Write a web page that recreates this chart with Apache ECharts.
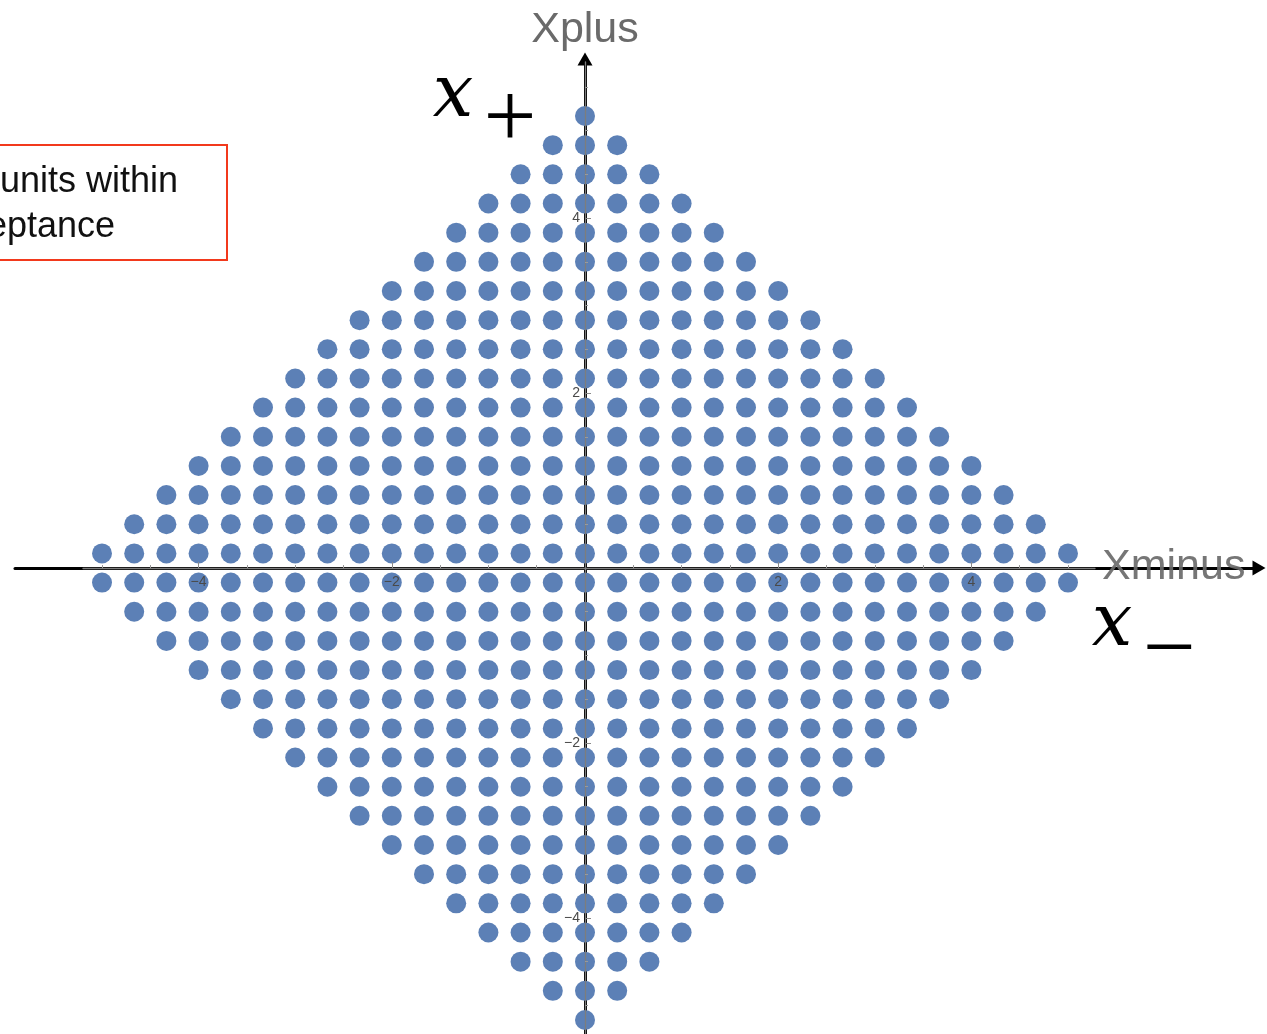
<!DOCTYPE html>
<html>
<head>
<meta charset="utf-8">
<script src="https://cdn.jsdelivr.net/npm/echarts@6/dist/echarts.min.js"></script>
<style>
  html, body { margin: 0; padding: 0; background: #ffffff; }
  #chart { width: 1267px; height: 1034px; }
</style>
</head>
<body>
<div id="chart"></div>
<script>
// Lattice rows from top to bottom: vertical level of each row, in lattice steps
const rowLevels = [
  15.5, 14.5, 13.5, 12.5, 11.5, 10.5, 9.5, 8.5, 7.5, 6.5, 5.5, 4.5, 3.5, 2.5, 1.5, 0.5,
  -0.5, -1.5, -2.5, -3.5, -4.5, -5.5, -6.5, -7.5, -8.5, -9.5, -10.5, -11.5, -12.5, -13.5, -14.5, -15.5
];
// Sites on each side of the Xplus axis in the matching row
const rowHalfWidths = [
  0, 1, 2, 3, 4, 5, 6, 7, 8, 9, 10, 11, 12, 13, 14, 15,
  15, 14, 13, 12, 11, 10, 9, 8, 7, 6, 5, 4, 3, 2, 1, 0
];
// Lattice spacing in axis units
const latticeStep = 1 / 3;

// Axis ticks
const majorTicks = [-4, -2, 2, 4];
const minorTicksX = [-5, -4.5, -3.5, -3, -2.5, -1.5, -1, -0.5, 0.5, 1, 1.5, 2.5, 3, 3.5, 4.5, 5];
const minorTicksY = [-5, -4.5, -3.5, -3, -2.5, -1.5, -1, -0.5, 0.5, 1, 1.5, 2.5, 3, 3.5, 4.5, 5, 5.5];

// Lattice sites
const sites = [];
rowLevels.forEach((level, r) => {
  const h = rowHalfWidths[r];
  for (let i = -h; i <= h; i++) {
    sites.push([i * latticeStep, level * latticeStep]);
  }
});

// Page geometry: where the origin sits and how many pixels one unit spans
const W = 1267, H = 1034;
const ORIGIN_X = 585, ORIGIN_Y = 568;
const UNIT_X = 96.6, UNIT_Y = 87.48;

function frame(left, right, top, bottom) {
  return {
    grid: { left: left, right: right, top: top, bottom: bottom, outerBoundsMode: 'none', containLabel: false },
    xMin: (left - ORIGIN_X) / UNIT_X,
    xMax: (W - right - ORIGIN_X) / UNIT_X,
    yMin: -(H - bottom - ORIGIN_Y) / UNIT_Y,
    yMax: (ORIGIN_Y - top) / UNIT_Y,
    // shifts that bring a bottom / left axis onto the origin
    xShift: -((H - bottom) - ORIGIN_Y),
    yShift: -(ORIGIN_X - left)
  };
}

// Outer frame: the long black arrows; inner frame: the thin gray axes with ticks
const outer = frame(15, 8, 59, 0);
const inner = frame(83, W - 1095, 62, 0);

const minusSign = v => String(v).replace('-', '\u2212');
const grayLine = '#7d7d7d';
const labelGray = '#4a4a4a';

function innerX(ticks, major) {
  return {
    gridIndex: 1, type: 'value', min: inner.xMin, max: inner.xMax, z: 5,
    position: 'bottom', offset: inner.xShift,
    axisLine: { show: major, onZero: false, lineStyle: { color: grayLine, width: 1.3 } },
    axisTick: { show: true, inside: true, length: major ? 6 : 3, customValues: ticks,
                lineStyle: { color: major ? '#8a8a8a' : '#9a9a9a', width: 1 } },
    axisLabel: { show: major, customValues: ticks, formatter: minusSign, margin: 7,
                 color: labelGray, fontSize: 14, fontFamily: 'Liberation Sans' },
    splitLine: { show: false }
  };
}
function innerY(ticks, major) {
  return {
    gridIndex: 1, type: 'value', min: inner.yMin, max: inner.yMax, z: 5,
    position: 'left', offset: inner.yShift,
    axisLine: { show: major, onZero: false, lineStyle: { color: grayLine, width: 1.3 } },
    axisTick: { show: true, inside: true, length: major ? 6 : 3, customValues: ticks,
                lineStyle: { color: major ? '#8a8a8a' : '#9a9a9a', width: 1 } },
    axisLabel: { show: major, customValues: ticks, formatter: minusSign, margin: 5,
                 color: labelGray, fontSize: 14, fontFamily: 'Liberation Sans' },
    splitLine: { show: false }
  };
}

const chart = echarts.init(document.getElementById('chart'), null, { renderer: 'canvas' });

chart.setOption({
  animation: false,
  backgroundColor: '#ffffff',
  grid: [outer.grid, inner.grid],
  xAxis: [
    {
      gridIndex: 0, type: 'value', min: outer.xMin, max: outer.xMax, z: 0,
      position: 'bottom', offset: outer.xShift,
      axisLine: { onZero: false, symbol: ['none', 'triangle'], symbolSize: [15, 13],
                  lineStyle: { color: '#000000', width: 3 } },
      axisTick: { show: false }, axisLabel: { show: false }, splitLine: { show: false }
    },
    innerX(majorTicks, true),
    innerX(minorTicksX, false)
  ],
  yAxis: [
    {
      gridIndex: 0, type: 'value', min: outer.yMin, max: outer.yMax, z: 0,
      position: 'left', offset: outer.yShift,
      axisLine: { onZero: false, symbol: ['none', 'triangle'], symbolSize: [15, 13],
                  lineStyle: { color: '#000000', width: 3 } },
      axisTick: { show: false }, axisLabel: { show: false }, splitLine: { show: false }
    },
    innerY(majorTicks, true),
    innerY(minorTicksY, false)
  ],
  series: [
    {
      type: 'scatter',
      xAxisIndex: 0,
      yAxisIndex: 0,
      data: sites,
      symbol: 'circle',
      symbolSize: 20,
      itemStyle: { color: '#5c80b6', opacity: 1 },
      silent: true,
      z: 2
    }
  ],
  graphic: [
    // Axis titles
    { type: 'text', z: 10, style: { text: 'Xplus', x: 585, y: 30, align: 'center', verticalAlign: 'middle',
      font: '43px "Liberation Sans", Arial, sans-serif', fill: '#6a6a6a' } },
    { type: 'text', z: 10, style: { text: 'Xminus', x: 1102, y: 567, align: 'left', verticalAlign: 'middle',
      font: '43px "Liberation Sans", Arial, sans-serif', fill: '#6a6a6a', opacity: 0.92 } },
    // Light-cone symbols
    { type: 'text', z: 10, style: { text: 'x', x: 453, y: 97, align: 'center', verticalAlign: 'middle',
      font: 'italic 72px "DejaVu Serif", "Liberation Serif", serif', fill: '#000000' } },
    { type: 'text', z: 10, style: { text: '+', x: 510, y: 122, align: 'center', verticalAlign: 'middle',
      font: '94px "Liberation Serif", "DejaVu Serif", serif', fill: '#000000' } },
    { type: 'text', z: 10, style: { text: 'x', x: 1112, y: 626, align: 'center', verticalAlign: 'middle',
      font: 'italic 72px "DejaVu Serif", "Liberation Serif", serif', fill: '#000000' } },
    { type: 'text', z: 10, style: { text: '\u2212', x: 1169, y: 653, align: 'center', verticalAlign: 'middle',
      font: '94px "Liberation Serif", "DejaVu Serif", serif', fill: '#000000' } },
    // Annotation box
    { type: 'rect', z: 10, shape: { x: -6, y: 145, width: 233, height: 115 },
      style: { fill: '#ffffff', stroke: '#f2391c', lineWidth: 2 } },
    { type: 'text', z: 11, style: { text: 'units within', x: 0, y: 182, align: 'left', verticalAlign: 'middle',
      font: '36px "Liberation Sans", Arial, sans-serif', fill: '#111111' } },
    { type: 'text', z: 11, style: { text: 'eptance', x: -13, y: 227, align: 'left', verticalAlign: 'middle',
      font: '36px "Liberation Sans", Arial, sans-serif', fill: '#111111' } }
  ]
});
</script>
</body>
</html>
